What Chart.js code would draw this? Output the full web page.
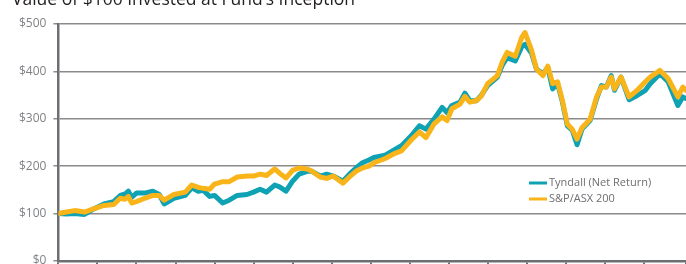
<!DOCTYPE html>
<html>
<head>
<meta charset="utf-8">
<script src="https://cdn.jsdelivr.net/npm/chart.js@4.4.1/dist/chart.umd.min.js"></script>
<style>
  html, body { margin: 0; padding: 0; background: #fff; overflow: hidden; }
  #wrap { position: relative; width: 686px; height: 275px; }
</style>
</head>
<body>
<div id="wrap"><canvas id="lineChart"></canvas></div>
<script>
// months since inception
const months = [0, 2.5, 5, 8, 11, 14, 17, 19, 20.5, 21.5, 22.5, 24, 26.5, 29, 31, 32.5, 35.5, 39, 41, 43, 44.5, 46.5,
    48, 50.5, 52.5, 55, 58, 60, 62, 64, 66.5, 68, 70, 72, 74, 76.5, 78, 80.5, 82.5, 84.5, 87.5, 89.5, 91.5, 93.5, 95.5,
    97, 100.5, 103.5, 105.5, 108.5, 111, 113, 115.5, 118, 119.5, 121, 123.5, 125, 126.5, 128.5, 130, 132, 135, 136.5,
    138, 140.5, 142.5, 143.5, 145.5, 147, 149, 150.5, 152, 153.5, 155, 156.5, 158, 159.5, 161, 163.5, 165.5, 167,
    168.5, 170, 171, 173, 175.5, 178, 180.5, 182, 185, 187.5, 190.5, 192, 193];
const tyndall = [100, 99, 100, 98, 110, 120, 125, 138, 141, 147, 134, 143, 143, 147, 140, 120, 132, 138, 154, 147, 149, 136,
    138, 122, 128, 138, 140, 145, 151, 145, 160, 156, 147, 168, 183, 189, 189, 179, 183, 179, 168, 183, 196, 207, 213,
    218, 223, 235, 243, 264, 285, 278, 299, 324, 313, 328, 335, 354, 338, 338, 349, 370, 388, 413,
    429, 422, 452, 457, 438, 405, 395, 408, 363, 374, 335, 285, 276, 245, 278, 296, 342, 370,
    367, 391, 360, 388, 340, 349, 360, 374, 395, 378, 328, 346, 343];
const asx200 = [100, 103, 106, 103, 110, 117, 119, 132, 130, 136, 122, 125, 132, 138, 138, 128, 140, 145, 160, 155, 153, 151,
    162, 167, 167, 177, 179, 179, 183, 180, 194, 185, 175, 191, 196, 194, 189, 177, 174, 179, 164, 177, 189, 196, 200,
    207, 216, 227, 232, 255, 272, 260, 289, 304, 296, 321, 331, 347, 335, 338, 347, 374, 391, 420,
    440, 432, 472, 482, 445, 405, 391, 411, 374, 378, 338, 289, 278, 257, 281, 299, 346, 367,
    367, 388, 363, 388, 346, 360, 378, 388, 402, 385, 346, 367, 360];
const seriesNames = ['Tyndall (Net Return)', 'S&P/ASX 200'];
const yTicks = [0, 100, 200, 300, 400, 500];
const chartTitle = 'Value of $100 Invested at Fund\u2019s Inception';

const TEAL = '#0ea2b4';
const GOLD = '#f8b419';

// titulo cortado arriba + leyenda dentro del grafico
const extras = {
    id: 'extras',
    afterDraw(chart) {
        const c = chart.ctx;
        const area = chart.chartArea;
        c.save();
        c.fillStyle = '#231f20';
        c.font = '17.5px "Open Sans"';
        c.textBaseline = 'alphabetic';
        c.fillText(chartTitle, 12, 5);

        c.font = '11px "Open Sans"';
        c.textBaseline = 'middle';
        chart.data.datasets.forEach(function (ds, i) {
            const lx = area.right - 157;
            const ly = 183 + i * 16;
            c.strokeStyle = ds.borderColor;
            c.lineWidth = 3;
            c.beginPath();
            c.moveTo(lx, ly);
            c.lineTo(lx + 18, ly);
            c.stroke();
            c.fillStyle = '#6d6e71';
            c.fillText(ds.label, lx + 20, ly);
        });
        c.restore();
    }
};

const ctx = document.getElementById('lineChart').getContext('2d');
const lineChart = new Chart(ctx, {
    type: 'line',
    data: {
        datasets: [{
            label: seriesNames[0],
            data: months.map((m, i) => ({ x: m, y: tyndall[i] })),
            borderColor: TEAL,
            borderWidth: 5,
            borderJoinStyle: 'round',
            borderCapStyle: 'round',
            pointRadius: 0,
            tension: 0,
            order: 1
        }, {
            label: seriesNames[1],
            data: months.map((m, i) => ({ x: m, y: asx200[i] })),
            borderColor: GOLD,
            borderWidth: 5,
            borderJoinStyle: 'round',
            borderCapStyle: 'round',
            pointRadius: 0,
            tension: 0,
            order: 0
        }]
    },
    options: {
        responsive: true,
        maintainAspectRatio: false,
        animation: false,
        layout: { padding: { top: 24, left: 12, right: 0, bottom: 0 } },
        plugins: {
            legend: { display: false },
            tooltip: { enabled: false }
        },
        scales: {
            x: {
                type: 'linear',
                min: 0,
                max: 193,
                border: { color: '#6d6e71', width: 2.5 },
                grid: { drawOnChartArea: false, color: '#6d6e71', lineWidth: 2, tickLength: 5 },
                ticks: { stepSize: 12, display: false }
            },
            y: {
                min: 0,
                max: 500,
                afterBuildTicks(axis) { axis.ticks = yTicks.map(v => ({ value: v })); },
                border: { color: '#6d6e71', width: 2.5 },
                grid: { color: '#8a8a8a', lineWidth: 1.5, tickLength: 5 },
                ticks: {
                    padding: 7,
                    color: '#808285',
                    font: { family: '"Open Sans"', size: 12 },
                    callback: v => '$' + v
                }
            }
        }
    },
    plugins: [extras]
});
</script>
</body>
</html>
